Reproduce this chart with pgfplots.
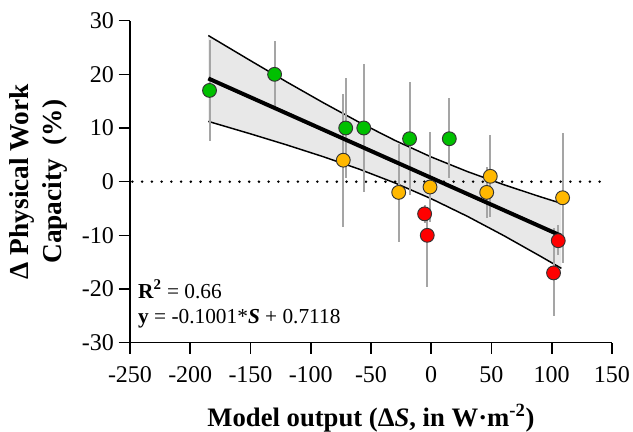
\documentclass[border=0pt]{standalone}
\usepackage{fontspec}
\setmainfont{Liberation Serif}
\usepackage{pgfplots}
\pgfplotsset{compat=1.18}
\usepackage{pgfplotstable}
\usetikzlibrary{pgfplots.fillbetween}
\definecolor{ptgreen}{RGB}{0,192,0}
\definecolor{ptorange}{RGB}{255,184,0}
\definecolor{ptred}{RGB}{255,0,0}
\definecolor{bandfill}{RGB}{217,217,217}
\definecolor{ebar}{RGB}{165,165,165}

\pgfplotstableread{
x y ep em
-184 17 9.4 9.4
-130 20 6.2 6.3
-71 10 9.4 9.3
-56 10 11.9 11.9
-18 8 10.6 10.5
15 8 7.5 7.3
}\greendata
\pgfplotstableread{
x y ep em
-73 4 12.3 12.4
-27 -2 9.1 9.2
-1 -1 10.3 6.5
49 1 7.7 7.6
46 -2 4.8 4.8
109 -3 12.1 12.2
}\orangedata
\pgfplotstableread{
x y ep em
-5.5 -6 1.7 1.7
-3.3 -10 3.0 9.7
101.5 -17 8.4 8.1
105.4 -11 2.9 2.7
}\reddata
\pgfplotstableread{
x up lo
-185 27.23 11.23
-150 22.55 8.91
-120 18.59 6.85
-90 14.76 4.68
-60 11.09 2.35
-30 7.67 -0.25
0 4.60 -3.18
30 1.88 -6.46
60 -0.55 -10.03
90 -2.78 -13.82
108 -4.05 -16.15
}\banddata

\begin{document}
\begin{tikzpicture}
\begin{axis}[
  name=ax,
  scale only axis,
  width=361.5pt, height=241.5pt,
  xmin=-250, xmax=150, ymin=-30, ymax=30,
  xtick={-250,-200,...,150},
  ytick={-30,-20,...,30},
  axis x line*=bottom, axis y line*=left,
  axis line style={line width=1.2pt},
  tick style={line width=1.2pt, black},
  tick align=outside,
  major tick length=8.5pt,
  /pgf/number format/assume math mode=true,
  tick label style={font=\fontsize{18}{20}\selectfont},
  xticklabel style={yshift=-6pt},
  xlabel={Model output (\(\)Δ\textit{S}, in W·m\textsuperscript{-2})},
  xlabel style={font=\fontsize{20}{24}\selectfont\bfseries, at={(axis description cs:0.5,-0.261)}, anchor=base},
  ylabel={Δ Physical Work\\Capacity\ \ (\%)},
  ylabel style={font=\fontsize{20.5}{25}\selectfont\bfseries, align=center, at={(axis description cs:-0.19,0.5)}, anchor=center},
  clip=false,
]
% zero line
\addplot[black, line width=2.1pt, dash pattern=on 0pt off 7.3pt, line cap=round, forget plot] coordinates {(-248,0) (145,0)};
% band
\addplot[name path=up, black, line width=1.1pt, forget plot] table[x=x, y=up] {\banddata};
\addplot[name path=lo, black, line width=1.1pt, forget plot] table[x=x, y=lo] {\banddata};
\addplot[bandfill, fill opacity=0.6, draw=none, forget plot] fill between[of=up and lo];
% error bars
\addplot[only marks, mark=none, forget plot, error bars/.cd, y dir=both, y explicit, error mark=none, error bar style={ebar, line width=1.5pt}]
  table[x=x, y=y, y error plus=ep, y error minus=em] {\greendata};
\addplot[only marks, mark=none, forget plot, error bars/.cd, y dir=both, y explicit, error mark=none, error bar style={ebar, line width=1.5pt}]
  table[x=x, y=y, y error plus=ep, y error minus=em] {\orangedata};
\addplot[only marks, mark=none, forget plot, error bars/.cd, y dir=both, y explicit, error mark=none, error bar style={ebar, line width=1.5pt}]
  table[x=x, y=y, y error plus=ep, y error minus=em] {\reddata};
% regression line
\addplot[black, line width=3pt, forget plot] coordinates {(-185,19.23) (108,-10.10)};
% markers
\addplot[only marks, mark=*, mark size=5.2pt, mark options={fill=ptgreen, draw=black!80, line width=0.7pt}] table[x=x, y=y] {\greendata};
\addplot[only marks, mark=*, mark size=5.2pt, mark options={fill=ptorange, draw=black!80, line width=0.7pt}] table[x=x, y=y] {\orangedata};
\addplot[only marks, mark=*, mark size=5.2pt, mark options={fill=ptred, draw=black!80, line width=0.7pt}] table[x=x, y=y] {\reddata};
% annotation
\node[anchor=base west, inner sep=0pt, font=\fontsize{16}{19}\selectfont] at (axis cs:-243.4,-21.7) {\textbf{R\textsuperscript{2}} = 0.66};
\node[anchor=base west, inner sep=0pt, font=\fontsize{16}{19}\selectfont] at (axis cs:-243.4,-26.5) {\textbf{y} = -0.1001*\textbf{\textit{S}} + 0.7118};
\end{axis}
\pgfresetboundingbox
\useasboundingbox (ax.south west) ++(-97.5pt,-67pt) rectangle ++(474.75pt,324pt);
\end{tikzpicture}
\end{document}
